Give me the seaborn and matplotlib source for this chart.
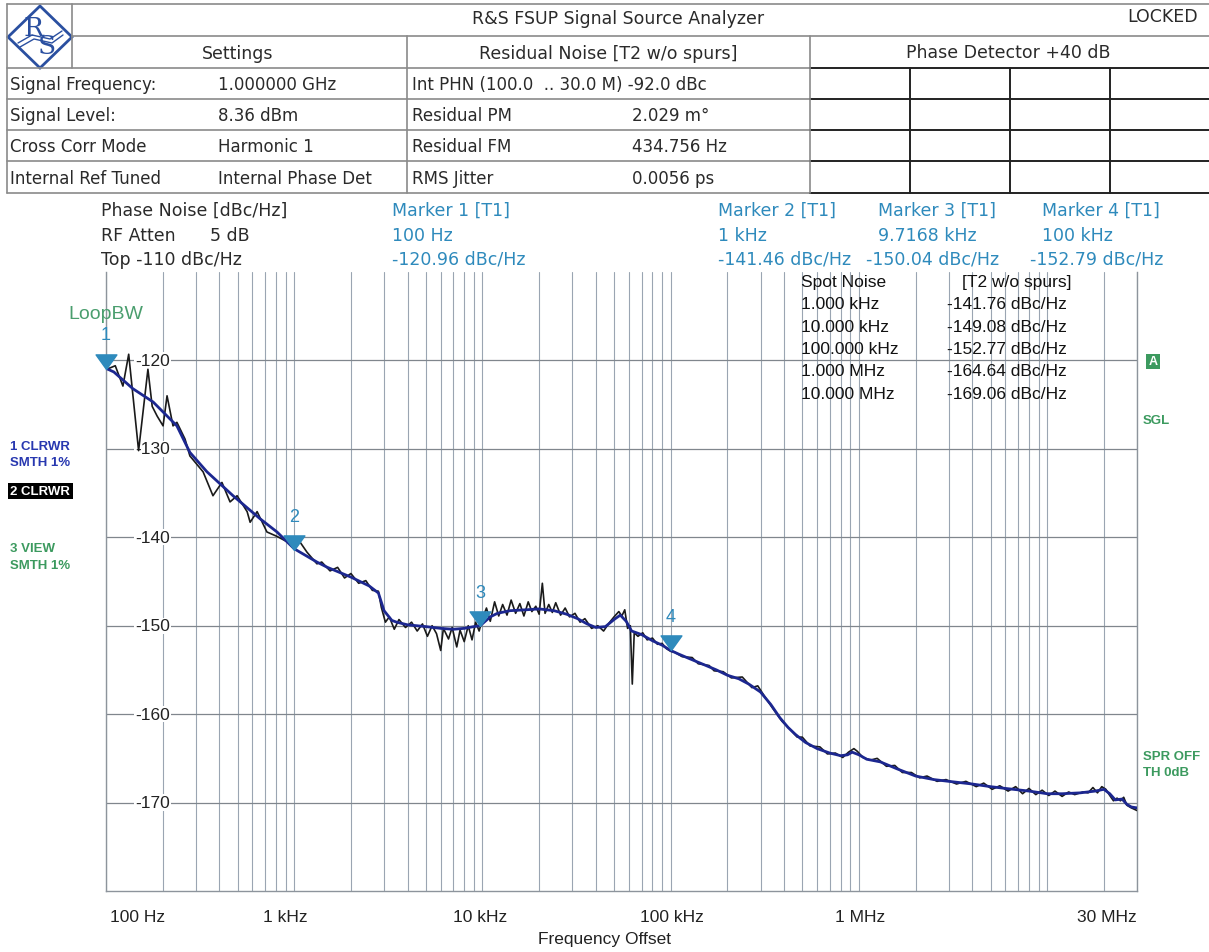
import matplotlib
matplotlib.use("Agg")
import numpy as np
import pandas as pd
import matplotlib.pyplot as plt
import seaborn as sns
from matplotlib.lines import Line2D
from matplotlib.patches import Polygon, Rectangle
from matplotlib.ticker import LogLocator, NullFormatter

W, H = 1209, 953

# trace 1: smoothed (blue)
t1_freq = [100, 110, 139, 178, 238, 279, 344, 473, 658, 810, 1000, 1320, 1500, 2000, 2500,
           2800, 3000, 3300, 3500, 4000, 5000, 6000, 7000, 8000, 9000, 9717, 11000, 12000,
           14000, 17000, 20000, 24000, 28000, 32000, 36000, 40000, 45000, 50000, 54000,
           58000, 62000, 70000, 80000, 90000, 100000, 110000, 125000, 150000, 175000,
           200000, 230000, 260000, 300000, 340000, 380000, 420000, 460000, 520000, 600000,
           700000, 800000, 870000, 920000, 1000000, 1100000, 1300000, 1600000, 2000000,
           2500000, 3000000, 4000000, 5000000, 6000000, 8000000, 10000000, 12000000,
           15000000, 18000000, 20000000, 21500000, 23000000, 25000000, 26500000, 28000000,
           30000000]
t1_level = [-120.9, -121.3, -123.2, -124.7, -127.4, -130.4, -132.6, -135.3, -137.9, -139.4,
            -141.3, -142.8, -143.4, -144.5, -145.5, -146.3, -148.3, -149.4, -149.6, -149.9,
            -150.1, -150.3, -150.4, -150.3, -150.1, -150.0, -149.0, -148.6, -148.3, -148.2,
            -148.1, -148.3, -148.7, -149.2, -149.8, -150.2, -150.1, -149.3, -148.8, -149.5,
            -150.6, -151.0, -151.7, -152.2, -152.8, -153.2, -153.7, -154.4, -155.0, -155.6,
            -156.0, -156.6, -157.5, -158.9, -160.4, -161.5, -162.3, -163.2, -163.9, -164.4,
            -164.7, -164.6, -164.3, -164.6, -165.1, -165.4, -166.2, -167.0, -167.4, -167.6,
            -167.9, -168.2, -168.4, -168.7, -169.0, -169.0, -168.9, -168.7, -168.5, -169.0,
            -169.7, -169.6, -170.2, -170.5, -170.6]

# trace 2: raw (black)
t2_freq = [100, 101, 112, 123, 132, 149, 167, 176, 187, 201, 211, 227, 238, 263, 279, 328,
           370, 413, 456, 497, 562, 583, 635, 716, 810, 915, 1070, 1170, 1320, 1400, 1550,
           1700, 1850, 2000, 2200, 2400, 2600, 2800, 2900, 3050, 3200, 3400, 3600, 3900,
           4200, 4500, 4800, 5100, 5400, 5700, 6000, 6200, 6600, 6900, 7300, 7600, 8000,
           8400, 8800, 9200, 9600, 10000, 10500, 11000, 11600, 12200, 12800, 13500, 14200,
           15000, 15800, 16600, 17500, 18300, 19200, 20000, 20800, 21500, 22500, 23500,
           24500, 26000, 27500, 29000, 31000, 33000, 35000, 38000, 41000, 44000, 47000,
           50000, 53000, 55000, 57000, 59000, 61000, 62500, 64000, 67000, 71000, 75000,
           80000, 85000, 90000, 95000, 100000, 105000, 115000, 130000, 140000, 160000,
           170000, 190000, 210000, 240000, 270000, 290000, 320000, 350000, 390000, 430000,
           470000, 500000, 550000, 620000, 680000, 750000, 820000, 880000, 940000, 980000,
           1050000, 1150000, 1250000, 1400000, 1550000, 1700000, 1900000, 2100000, 2300000,
           2600000, 2900000, 3300000, 3700000, 4200000, 4600000, 5100000, 5600000, 6200000,
           6800000, 7400000, 8000000, 8700000, 9400000, 10200000, 11000000, 12000000,
           13000000, 14000000, 15500000, 16500000, 17500000, 18500000, 19500000, 20500000,
           21500000, 22500000, 23500000, 24500000, 25500000, 26500000, 28000000, 30000000]
t2_level = [-120.8, -121.0, -120.6, -122.9, -119.3, -130.2, -121.0, -125.2, -126.3, -127.4,
            -124.0, -127.4, -127.0, -128.9, -130.8, -132.6, -135.3, -133.8, -136.0, -135.3,
            -137.1, -138.3, -137.1, -139.4, -139.9, -140.5, -140.5, -141.7, -143.0, -142.8,
            -143.8, -143.4, -144.6, -144.1, -145.2, -144.9, -146.0, -146.1, -147.9, -149.6,
            -149.0, -150.4, -149.3, -150.2, -149.6, -150.6, -149.8, -151.2, -150.0, -150.9,
            -152.8, -150.3, -151.5, -150.2, -152.4, -150.5, -151.8, -150.0, -151.6, -149.6,
            -150.6, -149.2, -148.0, -149.5, -147.3, -148.9, -147.6, -148.8, -147.1, -148.6,
            -147.5, -148.9, -147.3, -148.4, -147.8, -148.7, -145.2, -148.6, -147.6, -148.5,
            -147.4, -148.8, -148.0, -149.0, -148.6, -149.6, -149.2, -150.3, -150.0, -150.6,
            -149.7, -149.0, -148.4, -148.9, -148.2, -150.3, -150.0, -156.6, -150.8, -151.2,
            -150.8, -151.6, -151.4, -152.1, -152.0, -152.6, -152.9, -153.0, -153.5, -153.6,
            -154.3, -154.5, -155.1, -155.2, -155.9, -155.8, -157.0, -156.8, -158.2, -159.4,
            -160.8, -161.7, -162.6, -162.6, -163.6, -163.7, -164.5, -164.4, -164.9, -164.3,
            -163.9, -164.2, -164.9, -165.2, -165.0, -165.9, -165.8, -166.6, -166.6, -167.2,
            -167.0, -167.6, -167.4, -167.9, -167.6, -168.2, -167.8, -168.5, -168.1, -168.7,
            -168.2, -169.0, -168.4, -169.1, -168.6, -169.2, -168.7, -169.3, -168.8, -169.1,
            -168.8, -168.9, -168.3, -168.9, -168.2, -168.5, -169.2, -169.8, -169.5, -169.8,
            -169.4, -170.3, -170.6, -170.9]

marker_names = ["1", "2", "3", "4"]
marker_freq = [100, 1000, 9716.8, 100000]
marker_level = [-120.96, -141.46, -150.04, -152.79]
marker_freq_text = ["100 Hz", "1 kHz", "9.7168 kHz", "100 kHz"]
marker_level_text = ["-120.96 dBc/Hz", "-141.46 dBc/Hz", "-150.04 dBc/Hz", "-152.79 dBc/Hz"]

spot_offsets = ["1.000 kHz", "10.000 kHz", "100.000 kHz", "1.000 MHz", "10.000 MHz"]
spot_levels = [-141.76, -149.08, -152.77, -164.64, -169.06]

x_tick_freq = [148, 897, 9700, 101000, 1010000]
x_tick_labels = ["100 Hz", "1 kHz", "10 kHz", "100 kHz", "1 MHz"]
y_ticks = [-120, -130, -140, -150, -160, -170]

settings_rows = [("Signal Frequency:", "1.000000 GHz"), ("Signal Level:", "8.36 dBm"),
                 ("Cross Corr Mode", "Harmonic 1"), ("Internal Ref Tuned", "Internal Phase Det")]
residual_rows = [("Int PHN (100.0  .. 30.0 M) -92.0 dBc", ""), ("Residual PM", "2.029 m°"),
                 ("Residual FM", "434.756 Hz"), ("RMS Jitter", "0.0056 ps")]

BLUE_TR = "#1c2790"
TEAL = "#2e8abc"
GREEN = "#3c9a5f"
GRID = "#9aa5b2"
HDR = "#2a2a2a"
ARIAL = ["Liberation Sans", "DejaVu Sans"]

sns.set_style("white")
plt.rcParams["font.family"] = ["DejaVu Sans"]

fig = plt.figure(figsize=(W / 100, H / 100), dpi=100)

# ---- main plot
ax = fig.add_axes([106 / W, 1 - 892 / H, 1031 / W, 619 / H])
ax.set_xscale("log")
df1 = pd.DataFrame({"freq": t1_freq, "level": t1_level})
df2 = pd.DataFrame({"freq": t2_freq, "level": t2_level})
sns.lineplot(data=df2, x="freq", y="level", color="#1a1a1a", lw=1.2, estimator=None, ax=ax, zorder=3)
sns.lineplot(data=df1, x="freq", y="level", color=BLUE_TR, lw=2.0, estimator=None, ax=ax, zorder=4)
ax.set_xlim(100, 3e7)
ax.set_ylim(-180, -110)
ax.xaxis.set_major_locator(LogLocator(base=10, subs=(1.0,)))
ax.xaxis.set_minor_locator(LogLocator(base=10, subs=tuple(range(2, 10))))
ax.xaxis.set_minor_formatter(NullFormatter())
ax.set_yticks(y_ticks)
ax.grid(True, which="both", axis="x", color=GRID, lw=0.8)
ax.grid(True, which="major", axis="y", color="#80868d", lw=0.9)
ax.set_axisbelow(True)
ax.tick_params(which="both", length=0, labelbottom=False, labelleft=False)
ax.set_xlabel("")
ax.set_ylabel("")
ax.spines["top"].set_visible(False)
for s in ["left", "right", "bottom"]:
    ax.spines[s].set_color("#8d949c")
    ax.spines[s].set_linewidth(1.0)

for v in y_ticks:
    ax.text(0.062, v, str(v), transform=ax.get_yaxis_transform(), ha="right", va="center",
            fontsize=12.5, family=ARIAL, color="#222222", zorder=2.5,
            bbox=dict(fc="white", ec="none", pad=0.5))

xt = ax.get_xaxis_transform()
for f, lab in zip(x_tick_freq, x_tick_labels):
    ax.text(f, -0.042, lab, transform=xt, ha="center", va="center", fontsize=12.5,
            family=ARIAL, color="#222222", clip_on=False)
ax.text(3e7, -0.042, "30 MHz", transform=xt, ha="right", va="center", fontsize=12.5,
        family=ARIAL, color="#222222", clip_on=False)

# markers (tip of triangle sits on the trace)
tri = [(0, 0), (-1, 1.4), (1, 1.4), (0, 0)]
ax.plot(marker_freq, marker_level, linestyle="none", marker=tri, ms=21, color=TEAL,
        zorder=6, clip_on=False)
for n, f, v in zip(marker_names, marker_freq, marker_level):
    ax.annotate(n, (f, v), xytext=(0, 24.5), textcoords="offset points", ha="center",
                va="center", fontsize=13, family=ARIAL, color=TEAL, zorder=6,
                annotation_clip=False)

# ---- overlay in pixel coordinates
ov = fig.add_axes([0, 0, 1, 1], zorder=10)
ov.set_xlim(0, W)
ov.set_ylim(H, 0)
ov.axis("off")


def hline(y, x0, x1, c="#8a8a8a", lw=1.2):
    ov.add_line(Line2D([x0, x1], [y, y], color=c, lw=lw))


def vline(x, y0, y1, c="#8a8a8a", lw=1.2):
    ov.add_line(Line2D([x, x], [y0, y1], color=c, lw=lw))


# header grid
hline(5, 7, W)
hline(37, 72, W)
for y in [69, 100, 131, 162, 194]:
    hline(y, 7, 810)
for y in [69, 100, 131, 162, 194]:
    hline(y, 810, W, c="#222222", lw=1.4)
vline(7, 5, 194)
vline(72, 5, 69)
vline(407, 37, 194)
vline(810, 37, 194)
for x in [910, 1010, 1110]:
    vline(x, 69, 194, c="#222222", lw=1.4)

# logo
ov.add_patch(Polygon([(8, 38), (40, 7), (72, 38), (40, 69)], closed=True, fill=False,
                     ec="#2a4fa0", lw=2))
ov.add_line(Line2D([18, 32, 50, 62], [44, 36, 40, 32], color="#2a4fa0", lw=1))
ov.add_line(Line2D([20, 34, 52, 63], [48, 40, 44, 36], color="#2a4fa0", lw=1))
ov.text(33, 28, "R", fontsize=19, family="DejaVu Serif", color="#2a4fa0", ha="center", va="center")
ov.text(47, 47, "S", fontsize=19, family="DejaVu Serif", color="#2a4fa0", ha="center", va="center")

ov.text(618, 19, "R&S FSUP Signal Source Analyzer", fontsize=12.5, color=HDR, ha="center", va="center")
ov.text(1198, 17, "LOCKED", fontsize=12.5, color=HDR, ha="right", va="center")
ov.text(238, 54, "Settings", fontsize=12.5, color=HDR, ha="center", va="center")
ov.text(608, 54, "Residual Noise [T2 w/o spurs]", fontsize=12.5, color=HDR, ha="center", va="center")
ov.text(1008, 53, "Phase Detector +40 dB", fontsize=12.5, color=HDR, ha="center", va="center")
for y, (a, b), (c, d) in zip([85, 116, 147, 179], settings_rows, residual_rows):
    ov.text(10, y, a, fontsize=12, color=HDR, va="center")
    ov.text(218, y, b, fontsize=12, color=HDR, va="center")
    ov.text(412, y, c, fontsize=12, color=HDR, va="center")
    ov.text(632, y, d, fontsize=12, color=HDR, va="center")

# trace info lines
ov.text(101, 211, "Phase Noise [dBc/Hz]", fontsize=12.5, color=HDR, va="center")
ov.text(101, 236, "RF Atten", fontsize=12.5, color=HDR, va="center")
ov.text(210, 236, "5 dB", fontsize=12.5, color=HDR, va="center")
ov.text(101, 260, "Top -110 dBc/Hz", fontsize=12.5, color=HDR, va="center")
for i, x in enumerate([392, 718, 878, 1042]):
    ov.text(x, 211, f"Marker {marker_names[i]} [T1]", fontsize=12.5, color=TEAL, va="center")
    ov.text(x, 236, marker_freq_text[i], fontsize=12.5, color=TEAL, va="center")
for i, x in enumerate([392, 718, 866, 1030]):
    ov.text(x, 260, marker_level_text[i], fontsize=12.5, color=TEAL, va="center")

# spot noise table
ov.text(801, 283, "Spot Noise", fontsize=12.5, family=ARIAL, color="#111111", va="center")
ov.text(962, 283, "[T2 w/o spurs]", fontsize=12.5, family=ARIAL, color="#111111", va="center")
for i, (o, v) in enumerate(zip(spot_offsets, spot_levels)):
    y = 305 + i * 22.3
    ov.text(801, y, o, fontsize=12.5, family=ARIAL, color="#111111", va="center")
    ov.text(947, y, f"{v:.2f} dBc/Hz", fontsize=12.5, family=ARIAL, color="#111111", va="center")

# loop bandwidth label
ov.text(106, 315, "LoopBW", fontsize=14, family=ARIAL, color="#4a9e6e", ha="center", va="center")

# left trace labels
ov.text(10, 447, "1 CLRWR", fontsize=9.5, family=ARIAL, weight="bold", color="#2838b0", va="center")
ov.text(10, 463, "SMTH 1%", fontsize=9.5, family=ARIAL, weight="bold", color="#2838b0", va="center")
ov.add_patch(Rectangle((8, 484), 65, 16, fc="black", ec="none"))
ov.text(10, 492, "2 CLRWR", fontsize=9.5, family=ARIAL, weight="bold", color="white", va="center")
ov.text(10, 549, "3 VIEW", fontsize=9.5, family=ARIAL, weight="bold", color=GREEN, va="center")
ov.text(10, 566, "SMTH 1%", fontsize=9.5, family=ARIAL, weight="bold", color=GREEN, va="center")

# right status labels
ov.add_patch(Rectangle((1146, 355), 14, 15, fc=GREEN, ec="none"))
ov.text(1153, 362.5, "A", fontsize=9, family=ARIAL, weight="bold", color="white", ha="center", va="center")
ov.text(1143, 421, "SGL", fontsize=9.5, family=ARIAL, weight="bold", color=GREEN, va="center")
ov.text(1143, 757, "SPR OFF", fontsize=9.5, family=ARIAL, weight="bold", color=GREEN, va="center")
ov.text(1143, 773, "TH 0dB", fontsize=9.5, family=ARIAL, weight="bold", color=GREEN, va="center")

ov.text(605, 940, "Frequency Offset", fontsize=12.5, family=ARIAL, color="#222222", ha="center", va="center")

fig.savefig("out.png", dpi=100, facecolor="white")
